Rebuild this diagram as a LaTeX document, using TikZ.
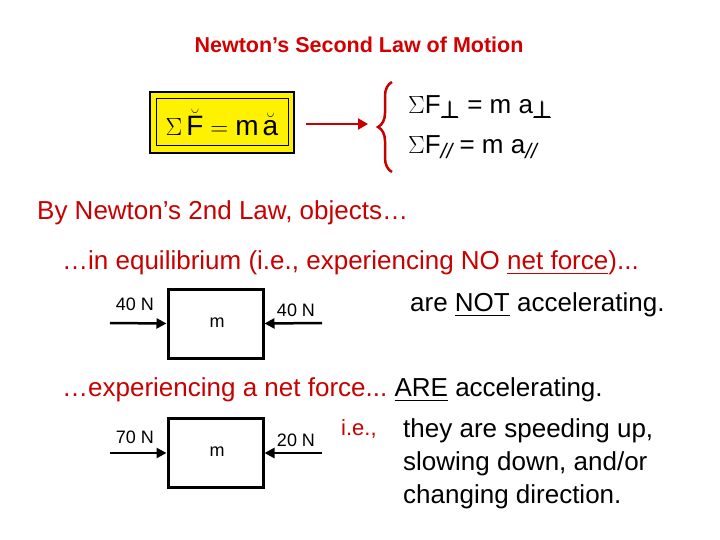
\documentclass[tikz,border=0pt]{standalone}
\usepackage{fontspec}
\usepackage{amsmath}
\setmainfont{Liberation Sans}
\usetikzlibrary{arrows.meta,decorations.pathreplacing}
\definecolor{dred}{RGB}{200,0,0}
\definecolor{ttl}{RGB}{210,0,0}
\begin{document}
\begin{tikzpicture}[x=1pt,y=-1pt,
  txt/.style={anchor=west,inner sep=0pt,font=\fontsize{26}{30}\selectfont},
  lab/.style={inner sep=0pt,font=\fontsize{18}{21}\selectfont},
  blk/.style={draw,line width=3pt,minimum width=95pt,minimum height=69pt,inner sep=0pt},
  force/.style={line width=2.5pt,-{Triangle[length=10pt,width=10pt]}}]
\useasboundingbox (0,0) rectangle (720,540);
\node[inner sep=0pt,font=\fontsize{21.5}{25}\selectfont\bfseries,text=ttl] (title) at (359,45) {Newton’s Second Law of Motion};
% equation box
\node[draw,line width=1.5pt,fill=yellow,minimum width=144pt,minimum height=61pt,
  label={[draw,line width=1pt,minimum width=132pt,minimum height=47pt,inner sep=0pt,font=\fontsize{28}{30}\selectfont]center:{$\Sigma\,\breve{\mathrm{F}} = \mathrm{m}\,\breve{\mathrm{a}}$}}] (outer) at (222,122.5) {};
\coordinate (arrEnd) at (368,124);
\draw[dred,line width=2.5pt,-{Triangle[length=10pt,width=11pt]}] (306,124) -- (arrEnd);
\draw[dred,line width=2.5pt,decorate,decoration={brace,amplitude=14pt}] (392,172) -- (392,82);
\node[txt] (perp) at (408,107) {$\Sigma$F\raisebox{-5pt}{$\pmb{\perp}$} = m a\raisebox{-5pt}{$\pmb{\perp}$}};
\node[txt] (par) at (408,147) {$\Sigma$F\raisebox{-5pt}{\fontsize{21}{22}\selectfont\itshape //} = m a\raisebox{-5pt}{\fontsize{21}{22}\selectfont\itshape //}};
% texts
\node[txt,text=dred] (by) at (37,213) {By Newton’s 2nd Law, objects…};
\node[txt,text=dred] (eqm) at (62,263) {…in equilibrium (i.e., experiencing NO \underline{net force})...};
\node[txt] (not) at (410,305) {are \underline{NOT} accelerating.};
\node[txt,text=dred] (net) at (62,390) {…experiencing a net force...\ \textcolor{black}{\underline{ARE} accelerating.}};
\node[txt,text=dred,font=\fontsize{22}{24}\selectfont] (ie) at (341,429) {i.e.,};
\node[txt] (l1) at (403,431) {they are speeding up,};
\node[txt] (l2) at (403,464) {slowing down, and/or};
\node[txt] (l3) at (403,497) {changing direction.};
% block 1
\node[blk] (b1) at (215.5,323.5) {};
\node[lab] (m1) at (217,323) {m};
\coordinate (a1) at (110,323);
\coordinate (a2) at (322,323);
\draw[force] (a1) -- (b1.west);
\draw[force] (a2) -- (b1.east);
\node[lab] (f1) at (135,304) {40 N};
\node[lab] (f2) at (296,310) {40 N};
% block 2
\node[blk] (b2) at (215.5,453) {};
\node[lab] (m2) at (217,452) {m};
\coordinate (c1) at (110,453);
\coordinate (c2) at (322,453);
\draw[force] (c1) -- (b2.west);
\draw[force] (c2) -- (b2.east);
\node[lab] (f3) at (135,437) {70 N};
\node[lab] (f4) at (296,440) {20 N};
\end{tikzpicture}
\end{document}
